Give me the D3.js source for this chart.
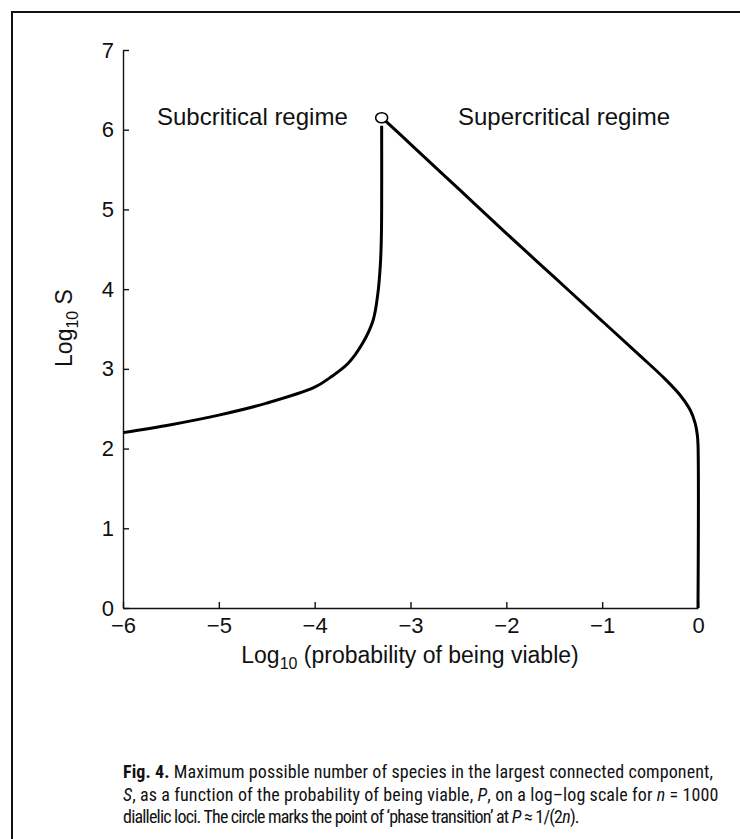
<!DOCTYPE html>
<html>
<head>
<meta charset="utf-8">
<script src="https://cdn.jsdelivr.net/npm/d3@7"></script>
<style>
  body { margin: 0; background: #fff; }
  svg text { font-family: "Liberation Sans", Arial, sans-serif; fill: #111; }
  .caption text { font-family: "Roboto Condensed", "Liberation Sans", sans-serif; }
</style>
</head>
<body>
<div class="chart"></div>
<script>
// axis ticks
const xTicks = [-6, -5, -4, -3, -2, -1, 0];
const yTicks = [0, 1, 2, 3, 4, 5, 6, 7];

// subcritical branch (log10 P, log10 S)
const subLogP = [-6.0, -5.5, -5.0, -4.5, -4.0, -3.84, -3.65, -3.5, -3.39, -3.34, -3.315, -3.305, -3.301, -3.301];
const subLogS = [2.2, 2.3, 2.42, 2.57, 2.77, 2.89, 3.07, 3.32, 3.61, 3.95, 4.3, 4.6, 5.0, 6.05];

// supercritical branch
const supLogP = [-3.27, -3.0, -2.5, -2.0, -1.5, -1.0, -0.6, -0.35, -0.18, -0.08, -0.03, -0.008, 0, 0];
const supLogS = [6.12, 5.82, 5.26, 4.7, 4.15, 3.6, 3.16, 2.88, 2.66, 2.48, 2.32, 2.18, 2.05, 0];

// phase transition point, P ~ 1/(2n), n = 1000
const transLogP = [-3.301];
const transLogS = [6.15];

const width = 740, height = 839;

const svg = d3.select('.chart')
              .append('svg')
              .attr('width', width)
              .attr('height', height);

// page frame (top rule and left rule)
svg.append('line').attr('x1', 11).attr('x2', width).attr('y1', 12).attr('y2', 12)
   .attr('stroke', '#111').attr('stroke-width', 2);
svg.append('line').attr('x1', 12).attr('x2', 12).attr('y1', 11).attr('y2', height)
   .attr('stroke', '#111').attr('stroke-width', 2);

const x = d3.scaleLinear().domain([-6, 0]).range([123, 698]);
const y = d3.scaleLinear().domain([0, 7]).range([608, 50]);

// axes, ticks point inward
const xAxis = svg.append('g')
  .attr('transform', `translate(0,${y(0)})`)
  .call(d3.axisBottom(x).tickValues(xTicks).tickFormat(d3.format('d'))
          .tickSize(-6).tickSizeOuter(0).tickPadding(9));
const yAxis = svg.append('g')
  .attr('transform', `translate(${x(-6)},0)`)
  .call(d3.axisLeft(y).tickValues(yTicks).tickFormat(d3.format('d'))
          .tickSize(-6).tickSizeOuter(0).tickPadding(9));

[xAxis, yAxis].forEach(function(g) {
  g.selectAll('path, line').attr('stroke', '#111').attr('stroke-width', 1.4);
  g.selectAll('text').attr('font-size', 22).attr('fill', '#111')
   .style('font-family', '"Liberation Sans", Arial, sans-serif');
});

// curves
const line = d3.line()
  .x(function(d) { return x(d[0]); })
  .y(function(d) { return y(d[1]); })
  .curve(d3.curveCatmullRom.alpha(0.5));

const subData = subLogP.map(function(p, i) { return [p, subLogS[i]]; });
const supData = supLogP.map(function(p, i) { return [p, supLogS[i]]; });

svg.append('path').datum(subData)
   .attr('d', line).attr('fill', 'none').attr('stroke', '#000').attr('stroke-width', 3);
svg.append('path').datum(supData)
   .attr('d', line).attr('fill', 'none').attr('stroke', '#000').attr('stroke-width', 3);

svg.selectAll('.trans')
   .data(transLogP)
   .enter()
   .append('ellipse')
   .attr('class', 'trans')
   .attr('cx', function(d) { return x(d); })
   .attr('cy', function(d, i) { return y(transLogS[i]); })
   .attr('rx', 6).attr('ry', 5)
   .attr('fill', '#fff').attr('stroke', '#000').attr('stroke-width', 1.6);

// regime labels
svg.append('text').attr('x', 157).attr('y', 125).attr('font-size', 24).text('Subcritical regime');
svg.append('text').attr('x', 458).attr('y', 125).attr('font-size', 24).text('Supercritical regime');

// axis titles
const xt = svg.append('text')
  .attr('x', 410).attr('y', 663)
  .attr('text-anchor', 'middle')
  .attr('font-size', 23);
xt.append('tspan').text('Log');
xt.append('tspan').attr('font-size', 16).attr('dy', 6).text('10');
xt.append('tspan').attr('dy', -6).text(' (probability of being viable)');

const yt = svg.append('text')
  .attr('transform', 'translate(72,328) rotate(-90)')
  .attr('text-anchor', 'middle')
  .attr('font-size', 23);
yt.append('tspan').text('Log');
yt.append('tspan').attr('font-size', 16).attr('dy', 6).text('10');
yt.append('tspan').attr('dy', -6).text(' S');

// caption
const cap = svg.append('g').attr('class', 'caption').attr('font-size', 18);
const l1 = cap.append('text').attr('x', 123).attr('y', 778).attr('letter-spacing', 0.1);
l1.append('tspan').attr('font-weight', 'bold').text('Fig. 4.');
l1.append('tspan').text(' Maximum possible number of species in the largest connected component,');

const l2 = cap.append('text').attr('x', 123).attr('y', 801).attr('letter-spacing', 0.1);
l2.append('tspan').attr('font-style', 'italic').text('S');
l2.append('tspan').text(', as a function of the probability of being viable, ');
l2.append('tspan').attr('font-style', 'italic').text('P');
l2.append('tspan').text(', on a log–log scale for ');
l2.append('tspan').attr('font-style', 'italic').text('n');
l2.append('tspan').text(' = 1000');

const l3 = cap.append('text').attr('x', 123).attr('y', 823).attr('letter-spacing', -0.8);
l3.append('tspan').text('diallelic loci. The circle marks the point of ‘phase transition’ at ');
l3.append('tspan').attr('font-style', 'italic').text('P');
l3.append('tspan').text(' ≈ 1/(2');
l3.append('tspan').attr('font-style', 'italic').text('n');
l3.append('tspan').text(').');
</script>
</body>
</html>
